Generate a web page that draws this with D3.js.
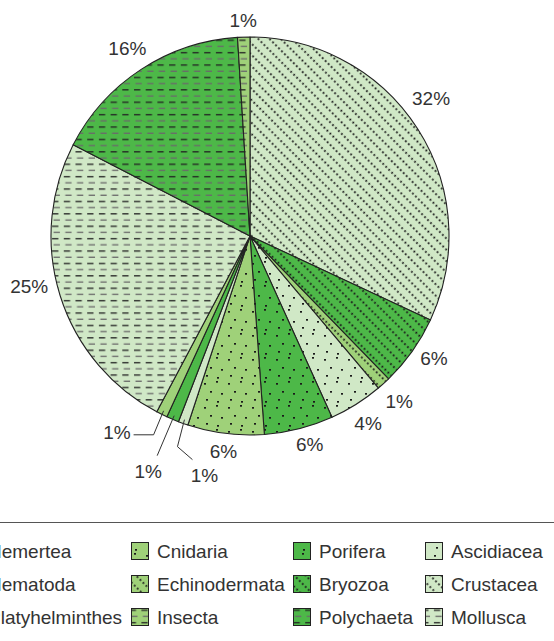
<!DOCTYPE html>
<html>
<head>
<meta charset="utf-8">
<script src="https://cdn.jsdelivr.net/npm/d3@7"></script>
<style>
  body { margin: 0; background: #fff; }
  text { font-family: "Liberation Sans", Arial, sans-serif; fill: #333; }
</style>
</head>
<body>
<div id="chart"></div>
<script>
// pie data, clockwise from 12 o'clock
var categories = ["Crustacea", "Bryozoa", "Echinodermata", "Ascidiacea", "Porifera", "Cnidaria",
                  "Nemertea", "Nematoda", "Platyhelminthes", "Mollusca", "Polychaeta", "Insecta"];
var values = [31.9, 5.8, 1.1, 4.4, 5.6, 6.2, 0.8, 1.0, 0.9, 24.8, 16.4, 1.0];
var labels = ["32%", "6%", "1%", "4%", "6%", "6%", "1%", "1%", "1%", "25%", "16%", "1%"];

// legend, column by column
var legendItems = [
  ["Nemertea", "Nematoda", "Platyhelminthes"],
  ["Cnidaria", "Echinodermata", "Insecta"],
  ["Porifera", "Bryozoa", "Polychaeta"],
  ["Ascidiacea", "Crustacea", "Mollusca"]
];

// colour + pattern per category
var colors = { light: "#d0e8c6", mid: "#9fd179", dark: "#4db848" };
var style = {
  Crustacea: ["light", "diag"], Bryozoa: ["dark", "diag"], Echinodermata: ["mid", "diag"],
  Ascidiacea: ["light", "dots"], Porifera: ["dark", "dots"], Cnidaria: ["mid", "dots"],
  Nemertea: ["light", "none"], Nematoda: ["dark", "none"], Platyhelminthes: ["mid", "none"],
  Mollusca: ["light", "hdash"], Polychaeta: ["dark", "hdash"], Insecta: ["mid", "hdash"]
};

var width = 554, height = 641;
var cx = 250, cy = 236, radius = 199;
var fontSize = 19;

var svg = d3.select("#chart")
  .append("svg")
    .attr("width", width)
    .attr("height", height);

var defs = svg.append("defs");

// build one pattern per colour/pattern combination
Object.keys(colors).forEach(function(c) {
  // diagonal dotted lines
  var p = defs.append("pattern")
    .attr("id", "diag-" + c)
    .attr("patternUnits", "userSpaceOnUse")
    .attr("width", 8).attr("height", 4.2)
    .attr("patternTransform", "rotate(-45)");
  p.append("rect").attr("width", 8).attr("height", 4.2).attr("fill", colors[c]);
  p.append("circle").attr("cx", 1.2).attr("cy", 1.2).attr("r", 1).attr("fill", "#1a1a1a");

  // scattered dots
  p = defs.append("pattern")
    .attr("id", "dots-" + c)
    .attr("patternUnits", "userSpaceOnUse")
    .attr("width", 24).attr("height", 24);
  p.append("rect").attr("width", 24).attr("height", 24).attr("fill", colors[c]);
  [[2, 3], [14, 1], [8, 11], [19, 13], [4, 19], [15, 21]].forEach(function(d) {
    p.append("rect").attr("x", d[0]).attr("y", d[1]).attr("width", 2).attr("height", 1.7).attr("fill", "#1a1a1a");
  });

  // horizontal dashes
  p = defs.append("pattern")
    .attr("id", "hdash-" + c)
    .attr("patternUnits", "userSpaceOnUse")
    .attr("width", 11.7).attr("height", 12.4);
  p.append("rect").attr("width", 11.7).attr("height", 12.4).attr("fill", colors[c]);
  p.append("rect").attr("x", 1).attr("y", 2).attr("width", 6.3).attr("height", 1.3).attr("fill", "#222");
  p.append("rect").attr("x", 2.5).attr("y", 8.2).attr("width", 6.3).attr("height", 1.3).attr("fill", "#6a6a6a");
});

function fillFor(name) {
  var s = style[name];
  return s[1] === "none" ? colors[s[0]] : "url(#" + s[1] + "-" + s[0] + ")";
}

var data = categories.map(function(c, i) { return { name: c, value: values[i], label: labels[i] }; });

var pie = d3.pie().sort(null).value(d => d.value);
var arc = d3.arc().innerRadius(0).outerRadius(radius);
var edgeArc = d3.arc().innerRadius(radius - 4).outerRadius(radius - 4);

var g = svg.append("g").attr("transform", `translate(${cx},${cy})`);
var arcs = pie(data);

g.selectAll("path.slice")
  .data(arcs)
  .join("path")
    .attr("class", "slice")
    .attr("d", arc)
    .attr("fill", d => fillFor(d.data.name))
    .attr("stroke", "#222")
    .attr("stroke-width", 1.1)
    .attr("stroke-linejoin", "round");

// small slices at the bottom-left get leader lines
var leader = {
  Platyhelminthes: { path: [[-10, 24], [-30, 24]], anchor: "end", lab: [-33, 28] },
  Nematoda: { path: [[-17, 40]], anchor: "middle", lab: [-26, 62] },
  Nemertea: { path: [[-7, 27], [8, 40]], anchor: "middle", lab: [20, 62] }
};
// hand nudges for some labels
var nudge = { Crustacea: [-11, -15], Mollusca: [-3, -18], Bryozoa: [2, -7], Porifera: [6, -3] };

var gap = 9;
arcs.forEach(function(d) {
  var name = d.data.name;
  if (leader[name]) {
    var p0 = edgeArc.centroid(d);
    var pts = [p0].concat(leader[name].path.map(o => [p0[0] + o[0], p0[1] + o[1]]));
    g.append("path")
      .attr("d", d3.line()(pts))
      .attr("fill", "none")
      .attr("stroke", "#333")
      .attr("stroke-width", 1);
    g.append("text")
      .attr("x", p0[0] + leader[name].lab[0])
      .attr("y", p0[1] + leader[name].lab[1])
      .attr("text-anchor", leader[name].anchor)
      .attr("font-size", fontSize)
      .text(d.data.label);
  } else {
    var t = g.append("text")
      .attr("text-anchor", "middle")
      .attr("dy", "0.35em")
      .attr("font-size", fontSize)
      .text(d.data.label);
    var w = t.node().getComputedTextLength(), h = 14;
    var a = (d.startAngle + d.endAngle) / 2;
    var r = radius + gap + Math.abs(Math.sin(a)) * w / 2 + Math.abs(Math.cos(a)) * h / 2;
    var n = nudge[name] || [0, 0];
    t.attr("x", r * Math.sin(a) + n[0]).attr("y", -r * Math.cos(a) + n[1]);
  }
});

// legend
svg.append("line")
  .attr("x1", 0).attr("x2", width)
  .attr("y1", 522.5).attr("y2", 522.5)
  .attr("stroke", "#555")
  .attr("stroke-width", 1);

var colX = [-38, 131, 293, 425];
var rowY = [551, 584, 617];

legendItems.forEach(function(col, i) {
  col.forEach(function(name, j) {
    svg.append("rect")
      .attr("x", colX[i] + 0.5).attr("y", rowY[j] - 8.5)
      .attr("width", 17).attr("height", 17)
      .attr("fill", fillFor(name))
      .attr("stroke", "#222")
      .attr("stroke-width", 1);
    svg.append("text")
      .attr("x", colX[i] + 26)
      .attr("y", rowY[j])
      .attr("dy", "0.35em")
      .attr("font-size", fontSize)
      .text(name);
  });
});
</script>
</body>
</html>
